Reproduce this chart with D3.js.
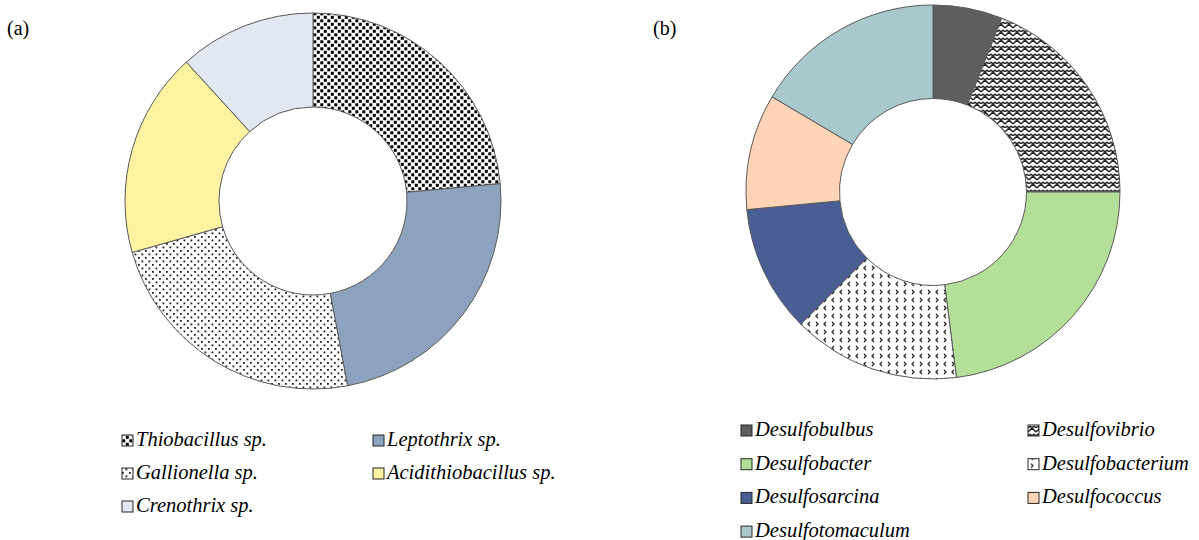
<!DOCTYPE html>
<html>
<head>
<meta charset="utf-8">
<script src="https://cdn.jsdelivr.net/npm/d3@7"></script>
<style>
	body { margin: 0; background: #fff; }
	svg { display: block; }
	text { font-family: "Times New Roman", "Liberation Serif", serif; fill: #000; }
</style>
</head>
<body>
<div id="chart"></div>
<script>

// Data for both panels
var speciesA = ["Thiobacillus sp.", "Leptothrix sp.", "Gallionella sp.", "Acidithiobacillus sp.", "Crenothrix sp."];
var valuesA = [4, 4, 4, 3, 2];
var fillsA = ["url(#confetti)", "#8DA3BD", "url(#dots)", "#FFF2A0", "#E2E8F2"];

var speciesB = ["Desulfobulbus", "Desulfovibrio", "Desulfobacter", "Desulfobacterium", "Desulfosarcina", "Desulfococcus", "Desulfotomaculum"];
var valuesB = [6, 19, 23, 14.5, 11, 10, 16.5];
var fillsB = ["#5E5E5E", "url(#weave)", "#B4DF98", "url(#divot)", "#4A5E94", "#FDD4B6", "#A9C8CD"];

var svg = d3.select("#chart").append("svg")
	.attr("width", 1199)
	.attr("height", 540);

// Patterns
var defs = svg.append("defs");

var p1 = defs.append("pattern").attr("id", "confetti")
	.attr("patternUnits", "userSpaceOnUse").attr("width", 7).attr("height", 7);
p1.append("rect").attr("width", 7).attr("height", 7).attr("fill", "#fff");
p1.append("rect").attr("x", 0.3).attr("y", 0.3).attr("width", 3).attr("height", 3).attr("fill", "#000");
p1.append("rect").attr("x", 3.8).attr("y", 3.8).attr("width", 3).attr("height", 3).attr("fill", "#000");

var p2 = defs.append("pattern").attr("id", "dots")
	.attr("patternUnits", "userSpaceOnUse").attr("width", 7).attr("height", 7);
p2.append("rect").attr("width", 7).attr("height", 7).attr("fill", "#fff");
p2.append("rect").attr("x", 0).attr("y", 0).attr("width", 1.8).attr("height", 1.8).attr("fill", "#222");
p2.append("rect").attr("x", 3.5).attr("y", 3.5).attr("width", 1.8).attr("height", 1.8).attr("fill", "#222");

var p3 = defs.append("pattern").attr("id", "weave")
	.attr("patternUnits", "userSpaceOnUse").attr("width", 8).attr("height", 8);
p3.append("rect").attr("width", 8).attr("height", 8).attr("fill", "#fff");
p3.append("path").attr("d", "M0,4 L4,0 L8,4 M0,8 L2,6 M6,6 L8,8 M4,4 L4,4 M2,6 L4,8 M6,6 L4,8")
	.attr("fill", "none").attr("stroke", "#222").attr("stroke-width", 1.5);

var p4 = defs.append("pattern").attr("id", "divot")
	.attr("patternUnits", "userSpaceOnUse").attr("width", 16).attr("height", 16);
p4.append("rect").attr("width", 16).attr("height", 16).attr("fill", "#fff");
p4.append("path").attr("d", "M5,2 L3,4 L5,6 M11,2 L13,4 L11,6 M3,10 L5,12 L3,14 M13,10 L11,12 L13,14")
	.attr("fill", "none").attr("stroke", "#222").attr("stroke-width", 1.3);

// Donut chart class
class DonutChart{

	constructor(_cx, _cy, _radius, _names, _values, _fills){
		this.cx = _cx;
		this.cy = _cy;
		this.radius = _radius;
		this.names = _names;
		this.values = _values;
		this.fills = _fills;

		this.drawChart();
	}

	drawChart(){
		var vis = this;

		vis.pie = d3.pie().sort(null).value(d => d);
		vis.arc = d3.arc()
			.innerRadius(vis.radius * 0.5)
			.outerRadius(vis.radius);

		vis.g = svg.append("g")
			.attr("transform", "translate(" + vis.cx + "," + vis.cy + ")");

		vis.g.selectAll("path")
			.data(vis.pie(vis.values))
			.enter().append("path")
			.attr("d", vis.arc)
			.attr("fill", (d, i) => vis.fills[i])
			.attr("stroke", "#595959")
			.attr("stroke-width", 1);
	}

	drawLegend(x0, y0, colGap, rowGap){
		var vis = this;

		var items = svg.append("g").selectAll("g")
			.data(vis.names)
			.enter().append("g")
			.attr("transform", (d, i) => "translate(" + (x0 + (i % 2) * colGap) + "," + (y0 + Math.floor(i / 2) * rowGap) + ")");

		items.append("rect")
			.attr("x", 0)
			.attr("y", -11)
			.attr("width", 11)
			.attr("height", 11)
			.attr("fill", (d, i) => vis.fills[i])
			.attr("stroke", "#262626")
			.attr("stroke-width", 1);

		items.append("text")
			.attr("x", 14)
			.attr("y", 0)
			.attr("font-size", 20.5)
			.attr("font-style", "italic")
			.text(d => d);
	}
}

var chartA = new DonutChart(313, 201, 188, speciesA, valuesA, fillsA);
chartA.drawLegend(122, 446, 251, 33);

var chartB = new DonutChart(933, 192, 187, speciesB, valuesB, fillsB);
chartB.drawLegend(741, 436, 287, 33.7);

// Panel labels
svg.append("text").attr("x", 7).attr("y", 35).attr("font-size", 20).text("(a)");
svg.append("text").attr("x", 653).attr("y", 35).attr("font-size", 20).text("(b)");

</script>
</body>
</html>
